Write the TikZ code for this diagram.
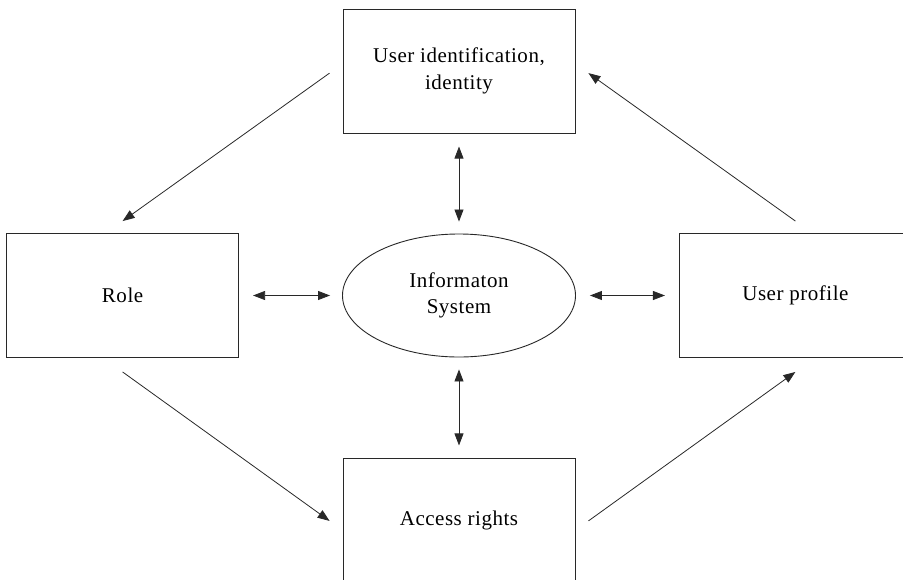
\documentclass[tikz,border=0pt]{standalone}
\usepackage{fontspec}
\setmainfont[LetterSpace=2.5]{Liberation Serif}
\usetikzlibrary{shapes,arrows.meta,positioning}
\usepackage{xcolor}
\definecolor{lineink}{RGB}{40,40,40}

\begin{document}
\begin{tikzpicture}[node distance=101pt,
    >={Triangle[length=12pt,width=9pt]},
    box/.style={rectangle, draw=lineink, line width=0.9pt, minimum width=232pt, minimum height=124pt, align=center, font=\fontsize{21}{27}\selectfont},
    hub/.style={ellipse, draw=lineink, line width=0.9pt, minimum width=233pt, minimum height=123pt, inner sep=0pt, align=center, font=\fontsize{21}{26}\selectfont},
    link/.style={lineink, line width=0.8pt}]
    \useasboundingbox (0,0) rectangle (903pt,-579pt);
    \node [hub] (sys) at (459pt,-295.5pt) {Informaton\\System};
    \node [box, above=100pt of sys] (ident) {User identification,\\identity};
    \node [box, left=103pt of sys] (role) {Role};
    \node [box, right=103pt of sys] (profile) {User profile};
    \node [box, below=101pt of sys] (access) {Access rights};
    % exchanges with the system
    \draw[<->, link, shorten <=13pt, shorten >=12pt] (ident) -- (sys);
    \draw[<->, link, shorten <=13pt, shorten >=12pt] (access) -- (sys);
    \draw[<->, link, shorten <=14pt, shorten >=12pt] (role) -- (sys);
    \draw[<->, link, shorten <=14pt, shorten >=14pt] (sys) -- (profile);
    % the cycle round the outside
    \draw[->, link] ([xshift=-13pt,yshift=-2pt]ident.west) -- ([yshift=12pt]role.north);
    \draw[->, link] ([yshift=-14pt]role.south) -- ([xshift=-13pt]access.west);
    \draw[->, link] ([xshift=13pt]access.east) -- ([yshift=-14pt]profile.south);
    \draw[->, link] ([yshift=12pt]profile.north) -- ([xshift=13pt,yshift=-2pt]ident.east);
\end{tikzpicture}
\end{document}
